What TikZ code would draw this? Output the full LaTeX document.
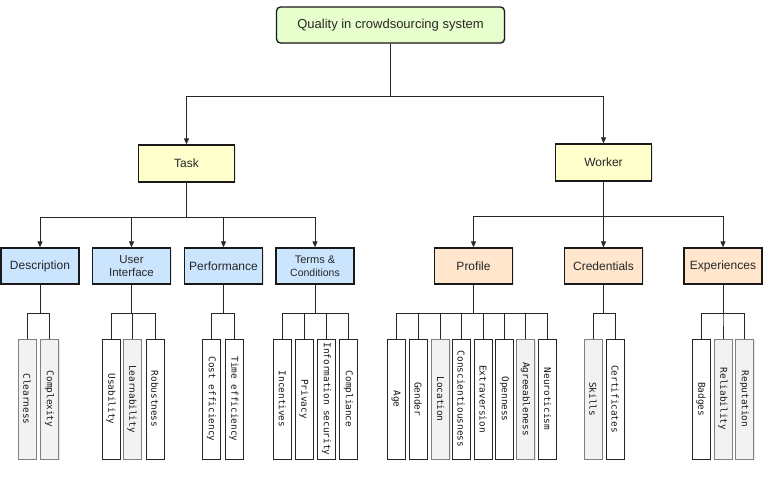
\documentclass[tikz,border=0pt]{standalone}
\usepackage{fontspec}
\setmainfont{Liberation Sans}
\newfontfamily\leaffont{DejaVu Sans Mono}
\usetikzlibrary{arrows.meta,shadows}

\definecolor{qgreen}{HTML}{E6FFCC}
\definecolor{qyellow}{HTML}{FFFFCC}
\definecolor{qblue}{HTML}{CCE5FF}
\definecolor{qpeach}{HTML}{FFE6CC}

\tikzset{
  box/.style={draw=black!90, line width=1.3pt, minimum height=36pt, inner sep=1pt,
    align=center, text=black!85, font=\fontsize{12}{13}\selectfont,
    drop shadow={opacity=0.2, shadow xshift=1.2pt, shadow yshift=-1.2pt}},
  rootbox/.style={box, fill=qgreen, rounded corners=4pt, minimum width=228pt,
    font=\fontsize{13}{14}\selectfont},
  mainbox/.style={box, fill=qyellow, minimum width=96pt, minimum height=37pt},
  taskbox/.style={box, fill=qblue, minimum width=78pt},
  workbox/.style={box, fill=qpeach, minimum width=78pt},
  leaf/.style={draw=black!85, fill=white, line width=0.8pt, rotate=-90,
    minimum width=120pt, minimum height=18pt, inner sep=0pt, text=black!90,
    font=\leaffont\fontsize{9.4}{10}\selectfont},
  leafg/.style={leaf, draw=black!50, fill=black!5,
    drop shadow={opacity=0.2, shadow xshift=1pt, shadow yshift=-1pt}},
  link/.style={draw=black!85, line width=0.9pt},
  arr/.style={link, -{Triangle[length=6pt,width=5pt]}},
}

\begin{document}
\begin{tikzpicture}[x=1pt,y=-1pt]
  \useasboundingbox (0,0) rectangle (779,480);

  \node[rootbox] (qual) at (390.5,25) {Quality in crowdsourcing system};
  \node[mainbox] (task) at (186.5,163.5) {Task};
  \node[mainbox] (worker) at (603.5,162.5) {Worker};

  \node[taskbox] (descr) at (40,266) {Description};
  \node[taskbox, font=\fontsize{11.5}{13}\selectfont] (ui) at (131.5,266) {User\\Interface};
  \node[taskbox, font=\fontsize{11}{13}\selectfont] (terms) at (315,266) {Terms \&\\{\fontsize{10.5}{13}\selectfont Conditions}};
  \node[taskbox] (perf) at (223.5,266) {Performance};
  \node[workbox] (profile) at (473.5,266) {Profile};
  \node[workbox] (cred) at (603.5,266) {Credentials};
  \node[workbox] (exper) at (723,266) {Experiences};

  % leaves
  \foreach \n/\x/\t/\s in {
      clea/27/Clearness/leafg, comp/49.5/Complexity/leafg,
      usab/111/Usability/leaf, learn/132/Learnability/leafg, robu/155/Robustness/leaf,
      cost/211.5/Cost efficiency/leaf, time/234/Time efficiency/leaf,
      ince/282.5/Incentives/leaf, priv/304/Privacy/leaf,
      info/326.5/Information security/leaf, compl/348.5/Compliance/leaf,
      age/396/Age/leaf, gend/418/Gender/leaf, loca/440.5/Location/leafg,
      consc/461/Conscientiousness/leaf, extra/483/Extraversion/leaf,
      open/504.5/Openness/leaf, agree/525.5/Agreeableness/leafg,
      neuro/547.5/Neuroticism/leaf,
      skill/593/Skills/leafg, certi/615/Certificates/leaf,
      badge/701/Badges/leaf, relia/723/Reliability/leafg, repu/744.5/Reputation/leafg}
    \node[\s] (\n) at (\x,399) {\t};

  \draw[arr] (qual.south) -- ++(0,53) -| (task.north);
  \draw[arr] (qual.south) -- ++(0,53) -| (worker.north);

  \foreach \k in {descr,ui,perf,terms}
    \draw[arr] (task.south) -- ++(0,35) -| (\k.north);
  \foreach \k in {profile,cred,exper}
    \draw[arr] (worker.south) -- ++(0,35) -| (\k.north);

  \foreach \p/\kids in {descr/{clea,comp}, ui/{usab,learn,robu}, perf/{cost,time},
      terms/{ince,priv,info,compl},
      profile/{age,gend,loca,consc,extra,open,agree,neuro},
      cred/{skill,certi}, exper/{badge,relia,repu}}
    \foreach \k in \kids
      \draw[link] (\p.south) -- ++(0,29) -| (\k.west);
\end{tikzpicture}
\end{document}
